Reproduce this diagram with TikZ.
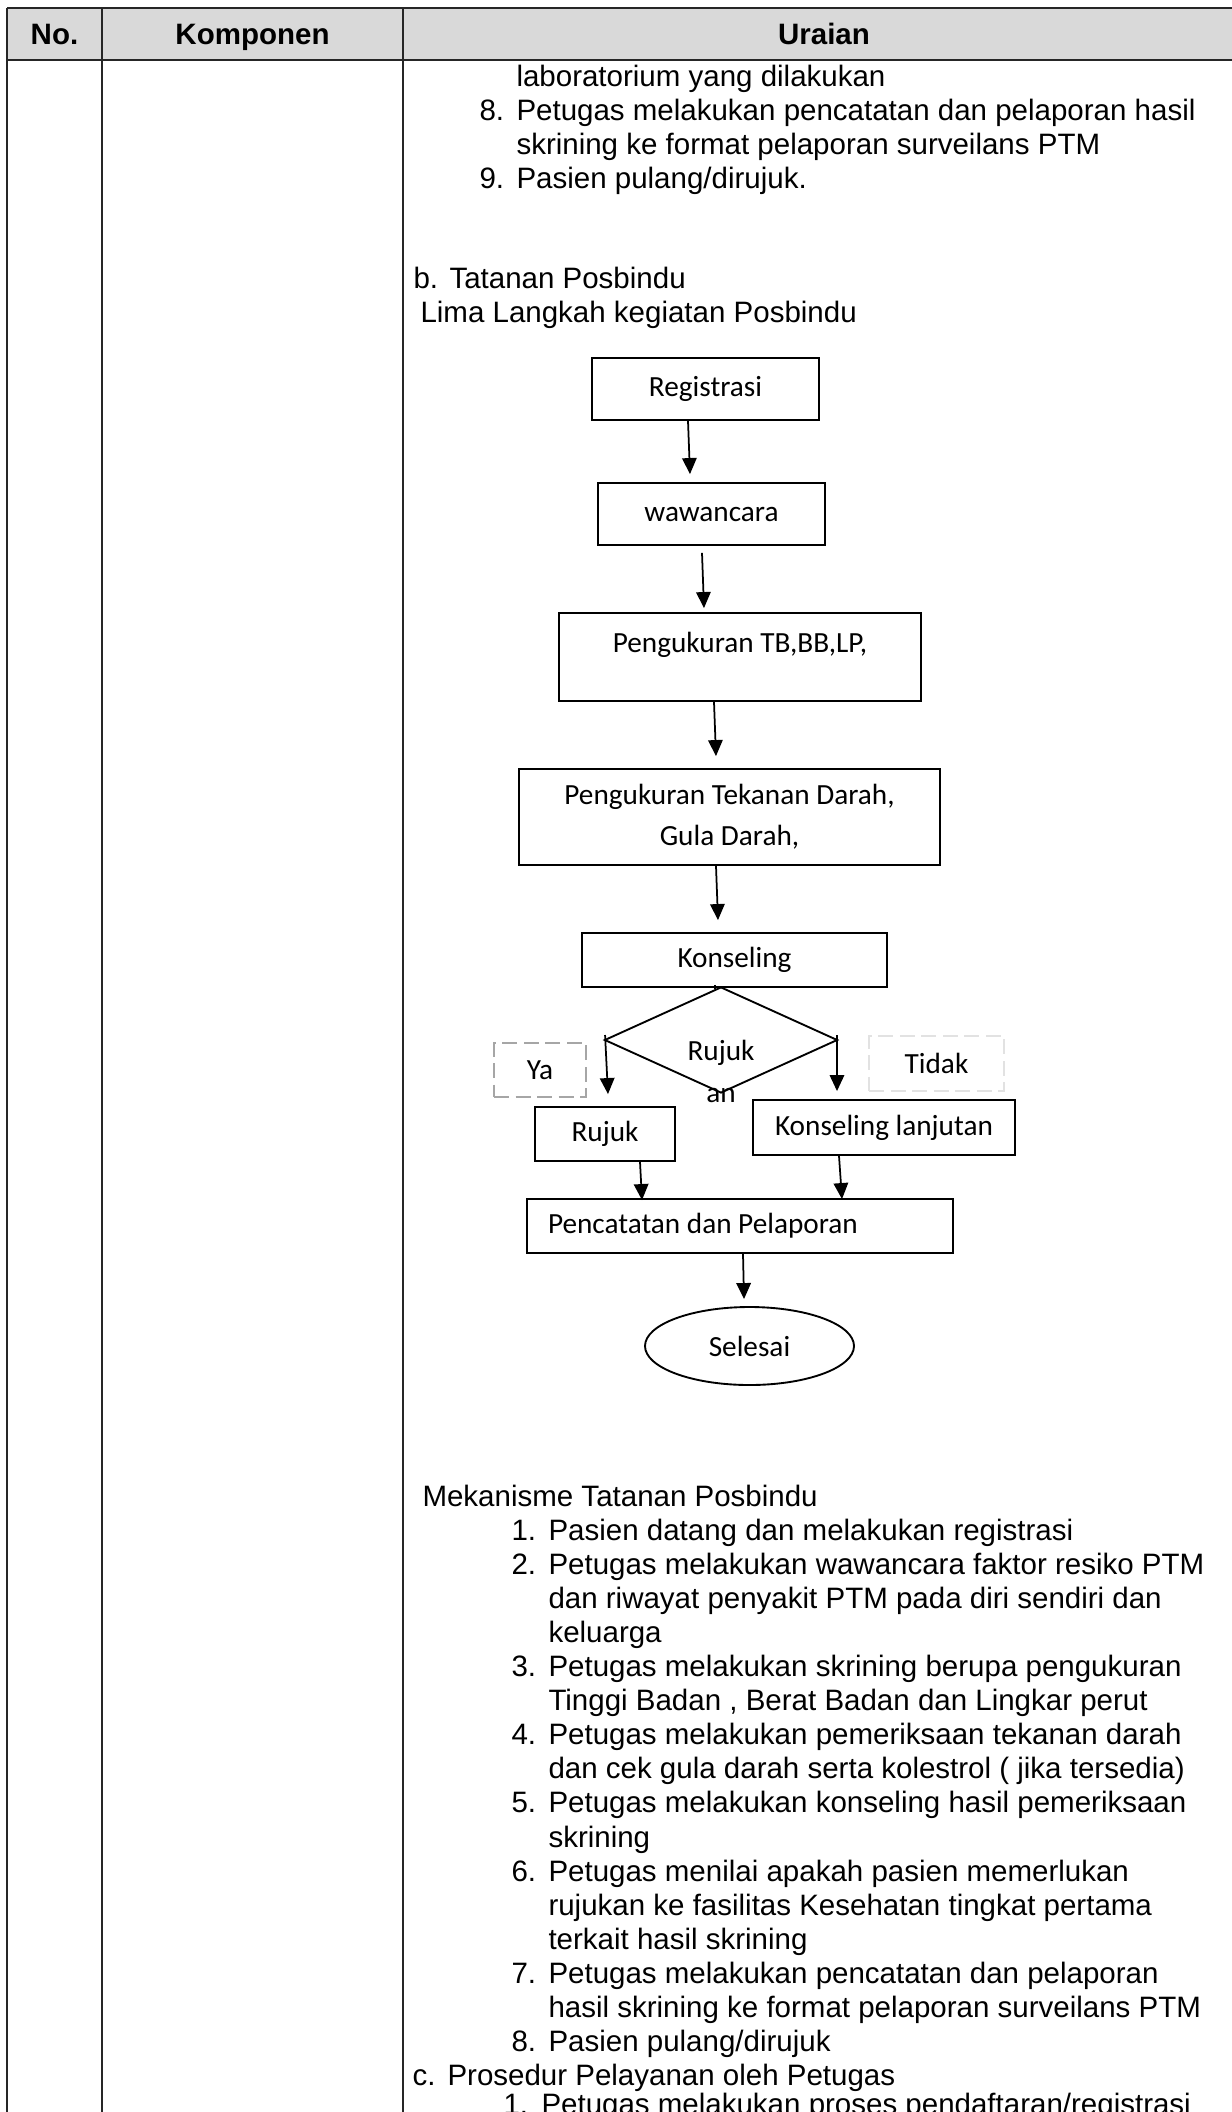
\documentclass[tikz,border=0pt]{standalone}
\usepackage{fontspec}
\setmainfont{Liberation Sans}
\newfontfamily\calfont{Carlito}
\usetikzlibrary{shapes.geometric, arrows.meta, calc}
\definecolor{hdrcolor}{RGB}{217, 217, 217}
\definecolor{yacolor}{RGB}{166, 166, 166}
\definecolor{tidakcolor}{RGB}{226, 226, 226}

\begin{document}
\begin{tikzpicture}[
  x=0.4pt, y=-0.4pt,
  >={Triangle[length=6.4pt, width=5.8pt]},
  % --- Styles ---
  body/.style={font=\fontsize{11.8}{13.7}\selectfont, anchor=base west, inner sep=0pt},
  hdr/.style={font=\fontsize{11.8}{13.7}\selectfont\bfseries, anchor=base, inner sep=0pt},
  tblline/.style={line width=0.6pt, black!85},
  flowbox/.style={
    rectangle, draw, line width=0.75pt, inner sep=0pt, align=center,
    font=\calfont\fontsize{11.7}{16.4}\selectfont},
  dashbox/.style={
    rectangle, draw=#1, dashed, dash pattern=on 6pt off 2.6pt, line width=0.8pt,
    inner sep=0pt, font=\calfont\fontsize{11.7}{16.4}\selectfont},
  flowtext/.style={inner sep=0pt, align=center, font=\calfont\fontsize{11.7}{16.8}\selectfont},
  myarr/.style={->, line width=0.7pt},
]
\useasboundingbox (0,0) rectangle (1232,2112);
\clip (0,0) rectangle (1232,2112);

% === TABLE ===
\fill[hdrcolor] (7,8) rectangle (1245,60);
\draw[tblline] (7,8) -- (1245,8);
\draw[tblline] (7,60) -- (1245,60);
\draw[tblline] (7,8) -- (7,2130);
\draw[tblline] (102,8) -- (102,2130);
\draw[tblline] (403,8) -- (403,2130);
\draw[tblline] (1245,8) -- (1245,2130);
\node[hdr] (hno) at (54.5,45) {No.};
\node[hdr] (hkomp) at (252.5,45) {Komponen};
\node[hdr] (hurai) at (824,45) {Uraian};

% === TEXT ABOVE ===
\node[body] (lab) at (516,87) {laboratorium yang dilakukan};
\node[body] (n8) at (479,121) {8.};
\node[body] (s8a) at (516,121) {Petugas melakukan pencatatan dan pelaporan hasil};
\node[body] (s8b) at (516,155) {skrining ke format pelaporan surveilans PTM};
\node[body] (n9) at (479,189) {9.};
\node[body] (s9) at (516,189) {Pasien pulang/dirujuk.};
\node[body] (nb) at (413,288) {b.};
\node[body] (tatanan) at (449,288) {Tatanan Posbindu};
\node[body] (lima) at (420,322) {Lima Langkah kegiatan Posbindu};

% === FLOWCHART ===
\node[flowbox, minimum width=90.8pt, minimum height=24.8pt] (reg) at (705.5,389) {Registrasi};
\node[flowbox, minimum width=90.8pt, minimum height=24.8pt] (waw) at (711.5,514) {wawancara};
\node[flowbox, minimum width=144.8pt, minimum height=35.2pt,
      text height=8pt, text depth=12pt] (tb) at (740,657) {Pengukuran TB,BB,LP,};
\node[flowbox, minimum width=168.4pt, minimum height=38.4pt] (td) at (729.5,817)
  {Pengukuran Tekanan Darah,\\Gula Darah,};
\node[flowbox, minimum width=122pt, minimum height=21.6pt] (kons) at (734.5,960) {Konseling};
% decision
\node[diamond, draw, line width=0.75pt, minimum width=93.2pt, minimum height=42.4pt,
      inner sep=0pt] (dia) at (721,1040) {};
\node[flowtext] (rujukan) at (721,1071) {Rujuk\\an};
\node[dashbox=yacolor, minimum width=36.8pt, minimum height=21.6pt] (ya) at (540,1070) {Ya};
\node[dashbox=tidakcolor, minimum width=54pt, minimum height=22pt] (tidak) at (936.5,1063.5) {Tidak};
\node[flowbox, minimum width=56pt, minimum height=21.6pt] (rujuk) at (605,1134) {Rujuk};
\node[flowbox, minimum width=104.8pt, minimum height=22pt] (kl) at (884,1127.5) {Konseling lanjutan};
\node[flowbox, minimum width=170.4pt, minimum height=21.6pt, text width=153.6pt,
      align=flush left, inner xsep=8.4pt] (penc) at (740,1226) {Pencatatan dan Pelaporan};
\node[ellipse, draw, line width=0.75pt, minimum width=83.6pt, minimum height=31.2pt,
      inner sep=0pt, font=\calfont\fontsize{11.7}{16.4}\selectfont] (sel) at (749.5,1346) {Selesai};

% === ARROWS ===
\draw[myarr] ($(reg.south)+(-17.5,0)$) -- ($(waw.north)+(-21.5,-8)$);
\draw[myarr] ($(waw.south)+(-9.5,7)$) -- ($(tb.north)+(-36,-4)$);
\draw[myarr] ($(tb.south)+(-26,0)$) -- ($(td.north)+(-13.5,-12)$);
\draw[myarr] ($(td.south)+(-13.5,0)$) -- ($(kons.north)+(-16.5,-12)$);
\draw[line width=0.7pt] ($(kons.south)+(-19.5,-3)$) -- ($(dia.north)+(-6,3)$);
\draw[myarr] ($(dia.west)+(1.5,-5)$) -- ($(rujuk.north)+(3,-12)$);
\draw[myarr] ($(dia.east)+(-1.5,-5)$) -- ($(kl.north)+(-47,-8)$);
\draw[myarr] ($(rujuk.south)+(35,0)$) -- ($(penc.north)+(-98,2)$);
\draw[myarr] ($(kl.south)+(-45,0)$) -- ($(penc.north)+(102,1)$);
\draw[myarr] ($(penc.south)+(3,0)$) -- ($(sel.north)+(-5.5,-7)$);

% === TEXT BELOW ===
\node[body] (mek) at (422,1506) {Mekanisme Tatanan Posbindu};
\node[body] (m1n) at (511,1540.1) {1.};
\node[body] (m1) at (548,1540.1) {Pasien datang dan melakukan registrasi};
\node[body] (m2n) at (511,1574.2) {2.};
\node[body] (m2a) at (548,1574.2) {Petugas melakukan wawancara faktor resiko PTM};
\node[body] (m2b) at (548,1608.3) {dan riwayat penyakit PTM pada diri sendiri dan};
\node[body] (m2c) at (548,1642.4) {keluarga};
\node[body] (m3n) at (511,1676.5) {3.};
\node[body] (m3a) at (548,1676.5) {Petugas melakukan skrining berupa pengukuran};
\node[body] (m3b) at (548,1710.6) {Tinggi Badan , Berat Badan dan Lingkar perut};
\node[body] (m4n) at (511,1744.7) {4.};
\node[body] (m4a) at (548,1744.7) {Petugas melakukan pemeriksaan tekanan darah};
\node[body] (m4b) at (548,1778.8) {dan cek gula darah serta kolestrol ( jika tersedia)};
\node[body] (m5n) at (511,1812.9) {5.};
\node[body] (m5a) at (548,1812.9) {Petugas melakukan konseling hasil pemeriksaan};
\node[body] (m5b) at (548,1847.0) {skrining};
\node[body] (m6n) at (511,1881.1) {6.};
\node[body] (m6a) at (548,1881.1) {Petugas menilai apakah pasien memerlukan};
\node[body] (m6b) at (548,1915.2) {rujukan ke fasilitas Kesehatan tingkat pertama};
\node[body] (m6c) at (548,1949.3) {terkait hasil skrining};
\node[body] (m7n) at (511,1983.4) {7.};
\node[body] (m7a) at (548,1983.4) {Petugas melakukan pencatatan dan pelaporan};
\node[body] (m7b) at (548,2017.5) {hasil skrining ke format pelaporan surveilans PTM};
\node[body] (m8n) at (511,2051.6) {8.};
\node[body] (m8) at (548,2051.6) {Pasien pulang/dirujuk};
\node[body] (nc) at (412,2085.7) {c.};
\node[body] (prosedur) at (447,2085.7) {Prosedur Pelayanan oleh Petugas};
\node[body] (p1n) at (503,2114) {1.};
\node[body] (p1) at (541,2114) {Petugas melakukan proses pendaftaran/registrasi};
\end{tikzpicture}
\end{document}
